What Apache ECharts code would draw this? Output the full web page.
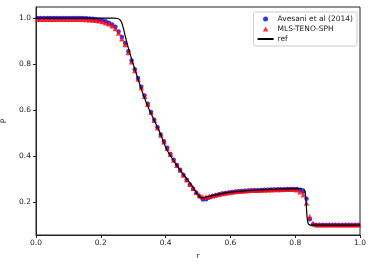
<!DOCTYPE html>
<html><head><meta charset="utf-8">
<script src="https://cdn.jsdelivr.net/npm/echarts@6/dist/echarts.min.js"></script>
<style>html,body{margin:0;padding:0;background:#fff}#c{width:374px;height:267px}</style>
</head><body><div id="c"></div>
<script>
// reference solution
const refR = [0, 0.24, 0.252, 0.258, 0.263, 0.268, 0.274, 0.285, 0.3, 0.331, 0.35, 0.38, 0.403, 0.444, 0.48, 0.511, 0.52, 0.568, 0.6, 0.65, 0.7, 0.75, 0.8, 0.822, 0.828, 0.831, 0.834, 0.837, 0.840, 0.844, 0.85, 1.0];
const refP = [1.0, 1.0, 0.998, 0.994, 0.985, 0.965, 0.93, 0.87, 0.80, 0.667, 0.60, 0.51, 0.43, 0.34, 0.275, 0.218, 0.221, 0.236, 0.243, 0.250, 0.254, 0.257, 0.259, 0.258, 0.254, 0.24, 0.19, 0.13, 0.107, 0.101, 0.1, 0.1];
// marker abscissae
const rPts = [0.005,0.015,0.025,0.035,0.045,0.055,0.065,0.075,0.085,0.095,0.105,0.115,0.125,0.135,0.145,0.155,0.165,0.175,0.185,0.195,0.205,0.215,0.225,0.235,0.245,0.255,0.265,0.275,0.285,0.295,0.305,0.315,0.325,0.335,0.345,0.355,0.365,0.375,0.385,0.395,0.405,0.415,0.425,0.435,0.445,0.455,0.465,0.475,0.485,0.495,0.505,0.515,0.525,0.535,0.545,0.555,0.565,0.575,0.585,0.595,0.605,0.615,0.625,0.635,0.645,0.655,0.665,0.675,0.685,0.695,0.705,0.715,0.725,0.735,0.745,0.755,0.765,0.775,0.785,0.795,0.805,0.815,0.825,0.835,0.845,0.855,0.865,0.875,0.885,0.895,0.905,0.915,0.925,0.935,0.945,0.955,0.965,0.975,0.985,0.995];
// Avesani et al (2014)
const avesaniP = [1.0,1.0,1.0,1.0,1.0,1.0,1.0,1.0,1.0,1.0,1.0,1.0,1.0,1.0,1.0,0.999,0.998,0.997,0.995,0.993,0.99,0.986,0.98,0.972,0.962,0.942,0.918,0.892,0.856,0.816,0.777,0.739,0.701,0.663,0.627,0.592,0.558,0.525,0.494,0.464,0.436,0.409,0.384,0.361,0.339,0.318,0.297,0.277,0.258,0.24,0.224,0.211,0.212,0.22,0.226,0.23,0.234,0.237,0.24,0.242,0.244,0.246,0.247,0.248,0.249,0.25,0.251,0.252,0.252,0.253,0.254,0.254,0.255,0.255,0.256,0.256,0.256,0.257,0.257,0.257,0.257,0.254,0.246,0.215,0.125,0.103,0.101,0.101,0.101,0.101,0.101,0.101,0.101,0.101,0.101,0.101,0.101,0.101,0.101,0.101];
// MLS-TENO-SPH
const tenoP = [0.995,0.995,0.995,0.995,0.995,0.995,0.995,0.995,0.995,0.995,0.995,0.995,0.995,0.995,0.995,0.994,0.993,0.992,0.99,0.988,0.985,0.98,0.975,0.966,0.955,0.935,0.91,0.885,0.85,0.81,0.772,0.735,0.698,0.66,0.625,0.59,0.556,0.523,0.492,0.462,0.434,0.408,0.383,0.36,0.339,0.318,0.297,0.278,0.26,0.243,0.23,0.222,0.222,0.225,0.228,0.231,0.234,0.237,0.24,0.242,0.244,0.246,0.247,0.248,0.249,0.25,0.251,0.252,0.252,0.253,0.253,0.254,0.254,0.255,0.255,0.255,0.256,0.256,0.256,0.256,0.254,0.245,0.232,0.196,0.137,0.108,0.102,0.102,0.102,0.102,0.102,0.102,0.102,0.102,0.102,0.102,0.102,0.102,0.102,0.102];
const xTicks = [0, 0.2, 0.4, 0.6, 0.8, 1.0];
const yTicks = [0.2, 0.4, 0.6, 0.8, 1.0];

const zip = (a, b) => a.map((v, i) => [v, b[i]]);
const font = 'DejaVu Sans';
const chart = echarts.init(document.getElementById('c'), null, {renderer: 'canvas'});
chart.setOption({
  animation: false,
  grid: {left: 36, right: 14, top: 7, bottom: 32, containLabel: false, outerBoundsMode: 'none',
         show: true, borderColor: '#222', borderWidth: 1, backgroundColor: 'transparent'},
  legend: {
    orient: 'vertical', right: 17, top: 12, padding: [3, 4, 3, 3], itemGap: 2,
    itemWidth: 16, itemHeight: 5, symbolKeepAspect: true,
    borderColor: '#ccc', borderWidth: 1, borderRadius: 2, backgroundColor: '#fff',
    textStyle: {fontFamily: font, fontSize: 7.5, color: '#222', padding: [0, 0, 0, -1]},
    data: [
      {name: 'Avesani et al (2014)', icon: 'circle'},
      {name: 'MLS-TENO-SPH', icon: 'path://M0,10 L5.5,0 L11,10 Z'},
      {name: 'ref', itemStyle: {opacity: 0}}
    ]
  },
  xAxis: {
    type: 'value', min: 0, max: 1, interval: 0.2,
    name: 'r', nameLocation: 'middle', nameGap: 17,
    nameTextStyle: {fontFamily: font, fontSize: 7.5, color: '#222'},
    axisLine: {show: true, lineStyle: {color: '#222', width: 1}},
    axisTick: {show: true, inside: false, length: 3, lineStyle: {color: '#222'}},
    axisLabel: {fontFamily: font, fontSize: 7.5, color: '#222', margin: 4, formatter: v => v.toFixed(1), customValues: xTicks},
    splitLine: {show: false}
  },
  yAxis: {
    type: 'value', min: 0.057, max: 1.048,
    name: 'P', nameLocation: 'middle', nameGap: 23,
    nameTextStyle: {fontFamily: font, fontSize: 7.5, color: '#222'},
    axisLine: {show: true, lineStyle: {color: '#222', width: 1}},
    axisTick: {show: true, inside: false, length: 3, lineStyle: {color: '#222'}, customValues: yTicks},
    axisLabel: {fontFamily: font, fontSize: 7.5, color: '#222', margin: 5, formatter: v => v.toFixed(1), customValues: yTicks},
    splitLine: {show: false}
  },
  series: [
    {name: 'Avesani et al (2014)', type: 'scatter', symbol: 'circle', symbolSize: 4.5,
     itemStyle: {color: '#0000ff'}, data: zip(rPts, avesaniP), z: 2},
    {name: 'MLS-TENO-SPH', type: 'scatter', symbol: 'triangle', symbolSize: 5.5,
     itemStyle: {color: '#ff0000'}, data: zip(rPts, tenoP), z: 3},
    {name: 'ref', type: 'line', symbol: 'none', smooth: 0.3,
     lineStyle: {color: '#000', width: 1.2}, itemStyle: {color: '#000'}, data: zip(refR, refP), z: 4}
  ]
});
</script></body></html>
